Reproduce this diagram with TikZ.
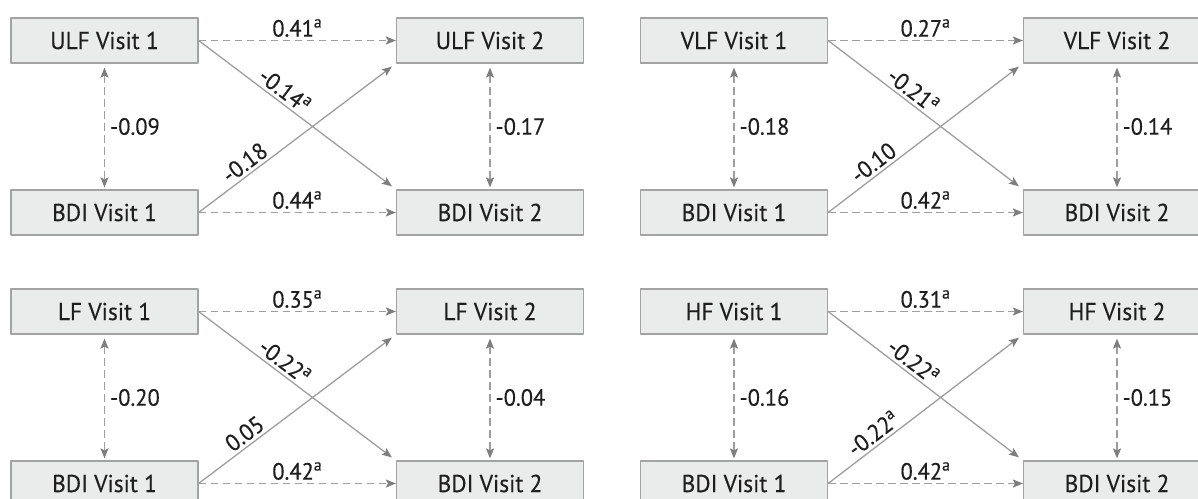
\documentclass[tikz,border=0pt]{standalone}
\usepackage{fontspec}
\setmainfont{PT Sans}[FakeStretch=0.96,FakeBold=0.3]
\usetikzlibrary{arrows.meta}
\definecolor{boxfill}{HTML}{E9ECEB}
\definecolor{boxline}{HTML}{A3A3A3}
\definecolor{linkgray}{HTML}{9E9E9E}
\definecolor{tipgray}{HTML}{7E7E7E}
\definecolor{inkgray}{HTML}{1E1E1E}
\tikzset{
  visit/.style={draw=boxline,fill=boxfill,line width=1.2bp,minimum width=187bp,minimum height=45bp,inner sep=0pt,text=inkgray,font=\fontsize{24.5}{27}\selectfont},
  coef/.style={text=inkgray,inner sep=3bp,font=\fontsize{23.5}{26}\selectfont},
  lagged/.style={linkgray,line width=1.3bp,dash pattern=on 7.5bp off 4.5bp,->},
  cross/.style={linkgray,line width=1.3bp,->,shorten >=5bp},
  within/.style={linkgray,line width=1.3bp,dash pattern=on 7.5bp off 4.5bp,<->,shorten <=4bp,shorten >=2bp},
}
\begin{document}
\begin{tikzpicture}[>={Stealth[length=10bp,width=8bp,inset=2bp,color=tipgray]},line join=bevel,]
\useasboundingbox (0bp,0bp) rectangle (1198bp,499bp);
\clip (0bp,0bp) rectangle (1198bp,499bp);
%% ULF
\node (ulf_1) at (104.5bp,458.5bp) [visit] {ULF Visit 1};
  \node (ulf_2) at (490bp,458.5bp) [visit] {ULF Visit 2};
  \node (bdi_u1) at (104.5bp,286.5bp) [visit] {BDI Visit 1};
  \node (bdi_u2) at (490bp,286.5bp) [visit] {BDI Visit 2};
  \draw [lagged] (ulf_1.east) -- node[coef,above] {0.41\textsuperscript{a}} (ulf_2.west);
  \draw [lagged] (bdi_u1.east) -- node[coef,above] {0.44\textsuperscript{a}} (bdi_u2.west);
  \draw [cross] (ulf_1.east) -- node[coef,pos=0.4,sloped,above] {-0.14\textsuperscript{a}} (bdi_u2.north west);
  \draw [cross] (bdi_u1.east) -- node[coef,pos=0.27,sloped,above] {-0.18} (ulf_2.south west);
  \draw [within] (ulf_1.south) -- node[coef,right=2bp] {-0.09} (bdi_u1.north);
  \draw [within] (ulf_2.south) -- node[coef,right=2bp] {-0.17} (bdi_u2.north);
%% VLF
\node (vlf_1) at (734bp,458.5bp) [visit] {VLF Visit 1};
  \node (vlf_2) at (1117bp,458.5bp) [visit] {VLF Visit 2};
  \node (bdi_v1) at (734bp,286.5bp) [visit] {BDI Visit 1};
  \node (bdi_v2) at (1117bp,286.5bp) [visit] {BDI Visit 2};
  \draw [lagged] (vlf_1.east) -- node[coef,above] {0.27\textsuperscript{a}} (vlf_2.west);
  \draw [lagged] (bdi_v1.east) -- node[coef,above] {0.42\textsuperscript{a}} (bdi_v2.west);
  \draw [cross] (vlf_1.east) -- node[coef,pos=0.4,sloped,above] {-0.21\textsuperscript{a}} (bdi_v2.north west);
  \draw [cross] (bdi_v1.east) -- node[coef,pos=0.27,sloped,above] {-0.10} (vlf_2.south west);
  \draw [within] (vlf_1.south) -- node[coef,right=2bp] {-0.18} (bdi_v1.north);
  \draw [within] (vlf_2.south) -- node[coef,right=2bp] {-0.14} (bdi_v2.north);
%% LF
\node (lf_1) at (104.5bp,187.5bp) [visit] {LF Visit 1};
  \node (lf_2) at (490bp,187.5bp) [visit] {LF Visit 2};
  \node (bdi_l1) at (104.5bp,15.5bp) [visit] {BDI Visit 1};
  \node (bdi_l2) at (490bp,15.5bp) [visit] {BDI Visit 2};
  \draw [lagged] (lf_1.east) -- node[coef,above] {0.35\textsuperscript{a}} (lf_2.west);
  \draw [lagged] (bdi_l1.east) -- node[coef,above] {0.42\textsuperscript{a}} (bdi_l2.west);
  \draw [cross] (lf_1.east) -- node[coef,pos=0.4,sloped,above] {-0.22\textsuperscript{a}} (bdi_l2.north west);
  \draw [cross] (bdi_l1.east) -- node[coef,pos=0.27,sloped,above] {0.05} (lf_2.south west);
  \draw [within] (lf_1.south) -- node[coef,right=2bp] {-0.20} (bdi_l1.north);
  \draw [within] (lf_2.south) -- node[coef,right=2bp] {-0.04} (bdi_l2.north);
%% HF
\node (hf_1) at (734bp,187.5bp) [visit] {HF Visit 1};
  \node (hf_2) at (1117bp,187.5bp) [visit] {HF Visit 2};
  \node (bdi_h1) at (734bp,15.5bp) [visit] {BDI Visit 1};
  \node (bdi_h2) at (1117bp,15.5bp) [visit] {BDI Visit 2};
  \draw [lagged] (hf_1.east) -- node[coef,above] {0.31\textsuperscript{a}} (hf_2.west);
  \draw [lagged] (bdi_h1.east) -- node[coef,above] {0.42\textsuperscript{a}} (bdi_h2.west);
  \draw [cross] (hf_1.east) -- node[coef,pos=0.4,sloped,above] {-0.22\textsuperscript{a}} (bdi_h2.north west);
  \draw [cross] (bdi_h1.east) -- node[coef,pos=0.27,sloped,above] {-0.22\textsuperscript{a}} (hf_2.south west);
  \draw [within] (hf_1.south) -- node[coef,right=2bp] {-0.16} (bdi_h1.north);
  \draw [within] (hf_2.south) -- node[coef,right=2bp] {-0.15} (bdi_h2.north);
%
\end{tikzpicture}
\end{document}
